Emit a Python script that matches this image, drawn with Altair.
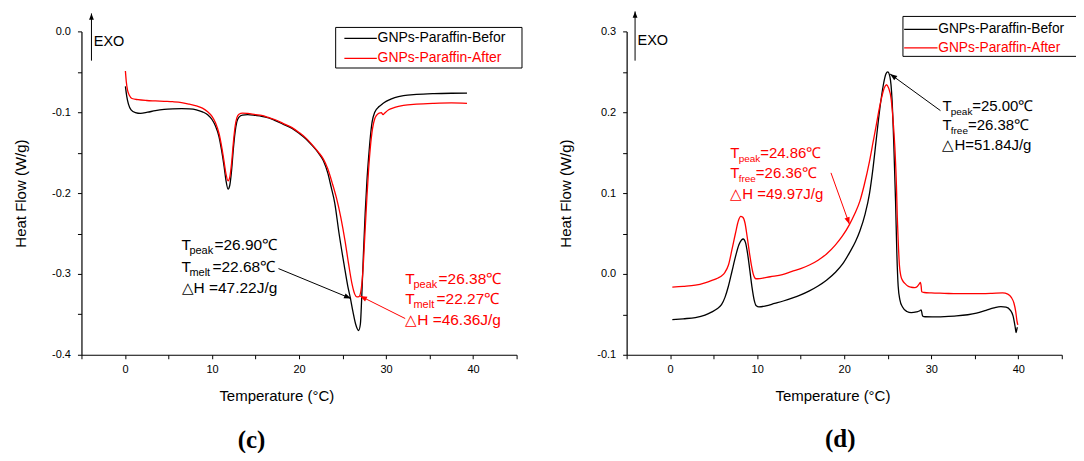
import math
import altair as alt
import pandas as pd

# ---------------- data ----------------
SERIES = ["GNPs-Paraffin-Befor", "GNPs-Paraffin-After"]
SERIES_COLORS = ["#000000", "#ff0000"]

# panel (c): heating
c_before_T = [0.05, 0.2, 0.4, 0.7, 1.2, 1.8, 2.6, 3.5, 4.5, 5.5, 6.5, 7.4, 8.2, 8.9, 9.5, 10.0, 10.4, 10.8,
              11.1, 11.4, 11.6, 11.85, 12.05, 12.25, 12.45, 12.65, 12.85, 13.1, 13.5, 14.1, 15.0, 15.7, 16.5,
              17.2, 18.2, 19.2, 20.0, 20.8, 21.5, 22.2, 22.8, 23.3, 23.7, 24.1, 24.6, 25.2, 25.6, 25.9, 26.2,
              26.5, 26.85, 27.05, 27.2, 27.4, 27.6, 27.8, 28.0, 28.2, 28.4, 28.7, 29.2, 29.5, 29.8, 30.3, 31.0,
              32.0, 33.5, 35.5, 37.5, 39.3]
c_before_v = [-0.068, -0.080, -0.090, -0.097, -0.1005, -0.1015, -0.100, -0.098, -0.0965, -0.0958, -0.0955,
              -0.0958, -0.097, -0.0995, -0.103, -0.109, -0.117, -0.130, -0.147, -0.168, -0.184, -0.195, -0.190,
              -0.172, -0.146, -0.125, -0.112, -0.106, -0.1035, -0.103, -0.104, -0.105, -0.107, -0.110, -0.115,
              -0.120, -0.126, -0.133, -0.141, -0.150, -0.160, -0.175, -0.193, -0.212, -0.250, -0.290, -0.315,
              -0.330, -0.347, -0.362, -0.370, -0.362, -0.330, -0.275, -0.225, -0.185, -0.155, -0.130, -0.112,
              -0.100, -0.093, -0.0905, -0.088, -0.085, -0.082, -0.0795, -0.078, -0.077, -0.0765, -0.0763]

c_after_T = [0.05, 0.15, 0.3, 0.5, 0.8, 1.5, 2.5, 3.5, 4.5, 5.5, 6.5, 7.4, 8.2, 8.9, 9.5, 10.0, 10.4, 10.8,
             11.1, 11.4, 11.6, 11.85, 12.05, 12.25, 12.45, 12.65, 12.85, 13.1, 13.5, 14.1, 15.0, 15.7, 16.5,
             17.2, 18.2, 19.2, 20.0, 20.8, 21.5, 22.2, 22.8, 23.3, 23.8, 24.3, 24.8, 25.3, 25.7, 26.1, 26.4,
             26.65, 26.9, 27.1, 27.35, 27.55, 27.8, 28.0, 28.2, 28.45, 28.7, 28.9, 29.2, 29.45, 29.65, 29.85,
             30.3, 31.0, 32.0, 33.5, 35.5, 37.5, 39.3]
c_after_v = [-0.049, -0.062, -0.073, -0.079, -0.083, -0.0845, -0.0855, -0.086, -0.0865, -0.087, -0.088, -0.090,
             -0.092, -0.095, -0.0995, -0.105, -0.113, -0.126, -0.142, -0.162, -0.176, -0.185, -0.180, -0.163,
             -0.138, -0.118, -0.107, -0.1025, -0.101, -0.1015, -0.103, -0.104, -0.1065, -0.109, -0.114, -0.119,
             -0.125, -0.132, -0.140, -0.149, -0.158, -0.170, -0.187, -0.206, -0.230, -0.260, -0.288, -0.313,
             -0.325, -0.3285, -0.328, -0.322, -0.295, -0.255, -0.205, -0.170, -0.143, -0.120, -0.108, -0.104,
             -0.101, -0.1005, -0.103, -0.101, -0.097, -0.094, -0.0915, -0.090, -0.089, -0.0885, -0.089]

# panel (d): cooling
d_before_T = [0.25, 1.5, 2.9, 4.0, 4.8, 5.4, 5.9, 6.3, 6.7, 7.1, 7.5, 7.9, 8.2, 8.4, 8.65, 8.9, 9.15, 9.4,
              9.65, 9.9, 10.2, 11.0, 12.0, 13.0, 14.0, 15.0, 16.0, 17.0, 18.0, 19.0, 19.8, 20.6, 21.3, 21.8,
              22.4, 22.9, 23.3, 23.7, 24.1, 24.5, 24.8, 25.0, 25.25, 25.5, 25.7, 25.9, 26.05, 26.2, 26.4, 26.7,
              27.2, 27.7, 28.3, 28.7, 28.85, 29.0, 29.3, 30.1, 31.5, 32.9, 34.2, 35.2, 36.3, 37.2, 38.0, 38.6,
              39.1, 39.4, 39.65, 39.75, 39.85, 39.9]
d_before_v = [-0.0566, -0.0555, -0.054, -0.051, -0.047, -0.043, -0.038, -0.029, -0.015, 0.003, 0.021, 0.036,
              0.042, 0.0432, 0.039, 0.025, 0.005, -0.016, -0.032, -0.0395, -0.0408, -0.0395, -0.0365, -0.0335,
              -0.030, -0.026, -0.021, -0.015, -0.0075, 0.002, 0.012, 0.026, 0.040, 0.053, 0.074, 0.099, 0.130,
              0.168, 0.205, 0.234, 0.2475, 0.250, 0.244, 0.215, 0.160, 0.090, 0.025, -0.015, -0.032, -0.041,
              -0.0465, -0.048, -0.047, -0.0455, -0.0445, -0.052, -0.053, -0.0532, -0.0528, -0.052, -0.0505,
              -0.0485, -0.045, -0.042, -0.0405, -0.041, -0.045, -0.052, -0.066, -0.0725, -0.068, -0.066]

d_after_T = [0.25, 1.5, 2.9, 4.0, 4.8, 5.5, 5.9, 6.3, 6.7, 7.1, 7.5, 7.85, 8.1, 8.35, 8.6, 8.85, 9.1, 9.35,
             9.6, 9.85, 10.3, 11.5, 12.9, 14.0, 15.0, 16.0, 17.0, 18.0, 19.0, 19.8, 20.6, 21.2, 21.8, 22.3,
             22.9, 23.3, 23.7, 24.0, 24.3, 24.6, 24.86, 25.1, 25.4, 25.65, 25.85, 26.0, 26.1, 26.2, 26.35, 26.5,
             26.7, 27.0, 27.3, 27.7, 28.1, 28.4, 28.65, 28.75, 28.85, 28.9, 29.2, 30.0, 31.5, 33.0, 35.0, 37.0,
             38.2, 38.8, 39.2, 39.5, 39.7, 39.85, 39.95]
d_after_v = [-0.0164, -0.0155, -0.014, -0.011, -0.008, -0.005, -0.0025, 0.002, 0.011, 0.030, 0.050, 0.066,
             0.0712, 0.070, 0.063, 0.046, 0.027, 0.010, -0.002, -0.006, -0.0057, -0.0035, -0.001, 0.003, 0.0065,
             0.011, 0.017, 0.025, 0.036, 0.047, 0.061, 0.074, 0.090, 0.110, 0.139, 0.162, 0.185, 0.203, 0.218,
             0.230, 0.234, 0.230, 0.216, 0.185, 0.150, 0.110, 0.070, 0.042, 0.010, -0.002, -0.008, -0.012,
             -0.015, -0.0165, -0.017, -0.0155, -0.012, -0.0105, -0.016, -0.022, -0.023, -0.0235, -0.024,
             -0.0245, -0.0245, -0.024, -0.0235, -0.025, -0.029, -0.036, -0.046, -0.058, -0.063]

X_DOMAIN = [-5, 45]
X_TICKS = [-5, 0, 5, 10, 15, 20, 25, 30, 35, 40, 45]
C_Y_DOMAIN = [-0.4, 0.0]
C_Y_TICKS = [-0.4, -0.35, -0.3, -0.25, -0.2, -0.15, -0.1, -0.05, 0.0]
D_Y_DOMAIN = [-0.1, 0.3]
D_Y_TICKS = [-0.1, -0.05, 0.0, 0.05, 0.1, 0.15, 0.2, 0.25, 0.3]

X_TITLE = "Temperature (°C)"
Y_TITLE = "Heat Flow (W/g)"

# annotation texts: [sub words], [values after the subscript], last line
c_before_note = (["peak", "melt"], ["=26.90℃", "=22.68℃"], "△H =47.22J/g")
c_after_note = (["peak", "melt"], ["=26.38℃", "=22.27℃"], "△H =46.36J/g")
d_before_note = (["peak", "free"], ["=25.00℃", "=26.38℃"], "△H=51.84J/g")
d_after_note = (["peak", "free"], ["=24.86℃", "=26.36℃"], "△H =49.97J/g")

# ---------------- layout ----------------
W, H = 436, 324
PXX = W / (X_DOMAIN[1] - X_DOMAIN[0])
FONT = "Liberation Sans"
HEAD = "M0,0L-0.38,1L0.38,1Z"


def note_rows(T0, vlines, note, color, sub_dx, rest_dx, pxy):
    subs, rests, last = note
    main, sub = [], []
    for i in range(2):
        main.append({"T": T0, "v": vlines[i], "s": "T", "c": color})
        main.append({"T": T0 + rest_dx[i] / PXX, "v": vlines[i], "s": rests[i], "c": color})
        sub.append({"T": T0 + sub_dx / PXX, "v": vlines[i] - 4.5 / pxy, "s": subs[i], "c": color})
    main.append({"T": T0, "v": vlines[2], "s": last, "c": color})
    return main, sub


def arrow_rows(arrows, pxy):
    lines, heads = [], []
    for (t0, v0, t1, v1, color) in arrows:
        dx = (t1 - t0) * PXX
        dy = -(v1 - v0) * pxy
        ang = math.degrees(math.atan2(dx, -dy)) % 360
        lines.append({"T": t0, "v": v0, "T2": t1, "v2": v1, "c": color})
        heads.append({"T": t1, "v": v1, "a": ang, "c": color})
    return lines, heads


def panel(before, after, ydom, yticks, notes, fonts, arrows, legend, exo, tag, x_title_x):
    pxy = H / (ydom[1] - ydom[0])
    main_fs, sub_fs, leg_fs = fonts
    xs = alt.Scale(domain=X_DOMAIN, nice=False, zero=False)
    ys = alt.Scale(domain=ydom, nice=False, zero=False)
    xaxis = alt.Axis(values=X_TICKS, labelExpr="datum.value % 10 == 0 ? datum.label : ''",
                     title=X_TITLE, titleX=x_title_x, titleY=46, titleBaseline="alphabetic",
                     titleAlign="center", labelFlush=False, labelOverlap=False, labelPadding=5)
    yaxis = alt.Axis(values=yticks,
                     labelExpr="abs(round(datum.value*20)) % 2 == 0 ? replace(format(datum.value, '.1f'), '\u2212', '-') : ''",
                     title=Y_TITLE, titleX=-56.5, titleY=H / 2, titleAngle=270, titleBaseline="alphabetic",
                     titleAlign="center", labelFlush=False, labelOverlap=False, labelPadding=7)

    def X(f):
        return alt.X(f, type="quantitative", scale=xs, axis=xaxis)

    def Y(f):
        return alt.Y(f, type="quantitative", scale=ys, axis=yaxis)

    layers = []
    # curves
    for (Ts, vs), color in zip([before, after], SERIES_COLORS):
        df = pd.DataFrame({"T": Ts, "v": vs})
        layers.append(alt.Chart(df).mark_line(color=color, strokeWidth=1.3, interpolate="monotone")
                      .encode(x=X("T"), y=Y("v")))

    # annotation arrows
    lines, heads = arrow_rows(arrows, pxy)
    layers.append(alt.Chart(pd.DataFrame(lines)).mark_rule(strokeWidth=1)
                  .encode(x=X("T"), y=Y("v"), x2="T2:Q", y2="v2:Q", color=alt.Color("c:N", scale=None)))
    layers.append(alt.Chart(pd.DataFrame(heads)).mark_point(shape=HEAD, filled=True, size=200, opacity=1)
                  .encode(x=X("T"), y=Y("v"), angle=alt.Angle("a:Q", scale=None),
                          color=alt.Color("c:N", scale=None)))

    # annotation texts
    mains, subs = [], []
    for (T0, vl, note, color, sdx, rdx) in notes:
        m, s = note_rows(T0, vl, note, color, sdx, rdx, pxy)
        mains += m
        subs += s
    layers.append(alt.Chart(pd.DataFrame(mains)).mark_text(align="left", baseline="alphabetic", font=FONT,
                                                           fontSize=main_fs)
                  .encode(x=X("T"), y=Y("v"), text="s:N", color=alt.Color("c:N", scale=None)))
    layers.append(alt.Chart(pd.DataFrame(subs)).mark_text(align="left", baseline="alphabetic", font=FONT,
                                                          fontSize=sub_fs)
                  .encode(x=X("T"), y=Y("v"), text="s:N", color=alt.Color("c:N", scale=None)))

    # EXO arrow
    ex_T, ex_v0, ex_v1, ex_tT, ex_tv = exo
    layers.append(alt.Chart(pd.DataFrame({"T": [ex_T], "v": [ex_v0], "v2": [ex_v1]})).mark_rule(
        color="black", strokeWidth=1).encode(x=X("T"), y=Y("v"), y2="v2:Q"))
    layers.append(alt.Chart(pd.DataFrame({"T": [ex_T], "v": [ex_v1]})).mark_point(
        shape=HEAD, filled=True, size=160, color="black", opacity=1).encode(x=X("T"), y=Y("v")))
    layers.append(alt.Chart(pd.DataFrame({"T": [ex_tT], "v": [ex_tv], "s": ["EXO"]})).mark_text(
        align="left", baseline="alphabetic", font=FONT, fontSize=14.5, color="black")
                  .encode(x=X("T"), y=Y("v"), text="s:N"))

    # legend (drawn box)
    (bx0, bx1, by0, by1), (lx0, lx1), rows_v = legend
    layers.append(alt.Chart(pd.DataFrame({"T": [bx0], "T2": [bx1], "v": [by0], "v2": [by1]})).mark_rect(
        fill="white", stroke="black", strokeWidth=1).encode(x=X("T"), x2="T2:Q", y=Y("v"), y2="v2:Q"))
    leg = pd.DataFrame({"T": [lx0] * 2, "T2": [lx1] * 2, "v": rows_v, "s": SERIES, "c": SERIES_COLORS})
    layers.append(alt.Chart(leg).mark_rule(strokeWidth=1.2)
                  .encode(x=X("T"), x2="T2:Q", y=Y("v"), color=alt.Color("c:N", scale=None)))
    leg2 = leg.assign(T=leg["T2"] + 0.08)
    layers.append(alt.Chart(leg2).mark_text(align="left", baseline="middle", font=FONT, fontSize=leg_fs)
                  .encode(x=X("T"), y=Y("v"), text="s:N", color=alt.Color("c:N", scale=None)))

    # panel tag
    tT, tv, ttext = tag
    layers.append(alt.Chart(pd.DataFrame({"T": [tT], "v": [tv], "s": [ttext]})).mark_text(
        align="center", baseline="alphabetic", font="Liberation Serif", fontSize=25, fontWeight="bold",
        color="black").encode(x=X("T"), y=Y("v"), text="s:N"))

    return alt.layer(*layers).properties(width=W, height=H)


left = panel(
    (c_before_T, c_before_v), (c_after_T, c_after_v), C_Y_DOMAIN, C_Y_TICKS,
    notes=[(6.5, [-0.2704, -0.2975, -0.3235], c_before_note, "#000000", 7.9, [33.0, 31.0]),
           (32.2, [-0.3123, -0.3370, -0.3630], c_after_note, "#ff0000", 8.3, [33.4, 31.4])],
    fonts=(15.5, 11, 14),
    arrows=[(17.64, -0.2934, 25.98, -0.3305, "#000000"),
            (32.2, -0.3552, 27.0, -0.3272, "#ff0000")],
    legend=((24.21, 45.62, 0.0049, -0.0453), (25.21, 28.94), [-0.0086, -0.0333]),
    exo=(-3.85, -0.0362, 0.0222, -3.59, -0.0177),
    tag=(14.54, -0.5148, "(c)"),
    x_title_x=195.3,
)

right = panel(
    (d_before_T, d_before_v), (d_after_T, d_after_v), D_Y_DOMAIN, D_Y_TICKS,
    notes=[(31.29, [0.2021, 0.1786, 0.1527], d_before_note, "#000000", 8.3, [29.8, 25.5]),
           (6.9, [0.1436, 0.1189, 0.0922], d_after_note, "#ff0000", 8.5, [30.0, 25.7])],
    fonts=(15, 10, 13.8),
    arrows=[(31.06, 0.2020, 25.27, 0.2473, "#000000"),
            (18.48, 0.1250, 20.6, 0.0614, "#ff0000")],
    legend=((26.75, 48.38, 0.3185, 0.2691), (26.89, 30.72), [0.3025, 0.2796]),
    exo=(-4.03, 0.2638, 0.3247, -3.75, 0.2836),
    tag=(19.54, -0.2136, "(d)"),
    x_title_x=206.2,
)

chart = alt.hconcat(left, right, spacing=35.25).properties(
    padding={"left": 4.6, "top": 2, "right": -16.5, "bottom": 0}
).configure_view(stroke=None).configure_axis(
    grid=False, domainColor="#000000", domainWidth=1.2, tickColor="#000000", tickWidth=1, tickSize=4,
    labelFont=FONT, labelFontSize=11, labelColor="#000000", titleFont=FONT, titleFontSize=15,
    titleFontWeight="normal", titleColor="#000000"
)

chart.save("out.html", embed_options={"renderer": "svg", "actions": False})
